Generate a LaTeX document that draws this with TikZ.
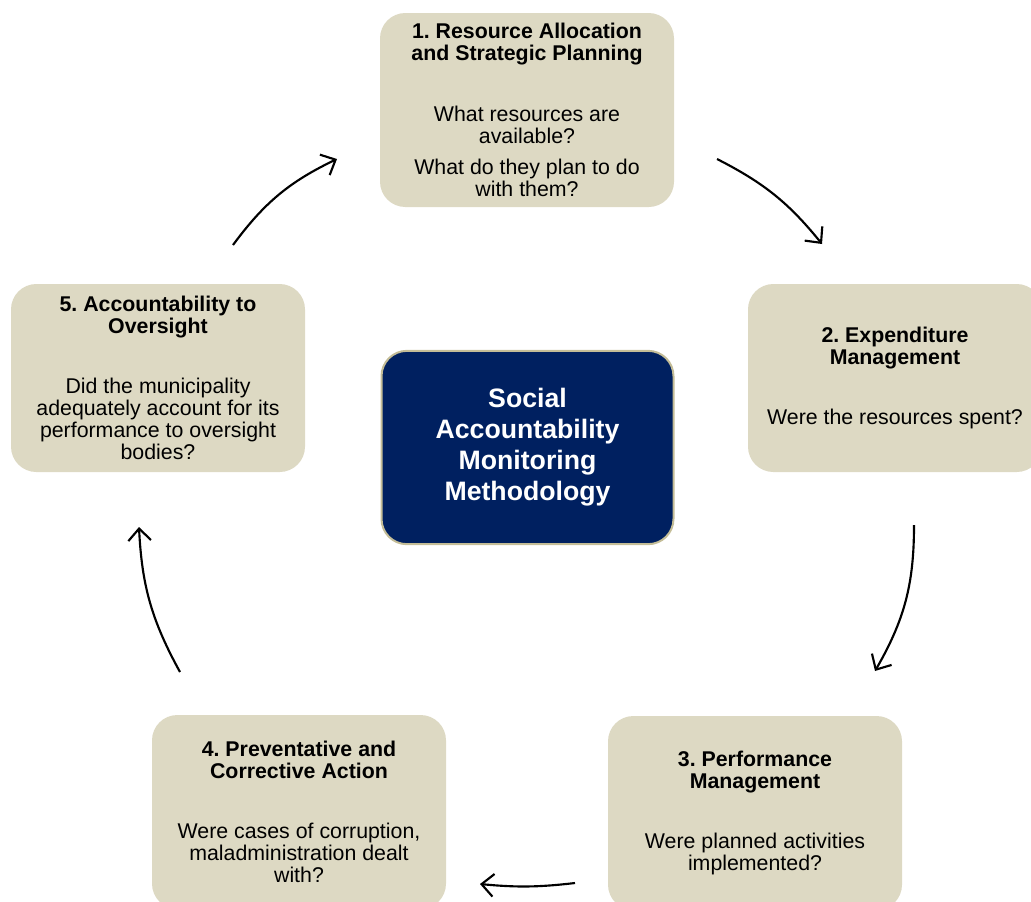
\documentclass[tikz,border=0pt]{standalone}
\usepackage{fontspec}
\setmainfont{Liberation Sans}
\usepackage{tikz}
\usetikzlibrary{arrows.meta}

\definecolor{boxtan}{HTML}{DDD9C3}
\definecolor{rimtan}{HTML}{C4BD97}
\definecolor{navy}{HTML}{002060}
\newcommand{\hd}[1]{\textbf{#1}}
\frenchspacing

\begin{document}
\begin{tikzpicture}[x=0.75pt, y=0.75pt,
    stage/.style={rectangle, rounded corners=19pt, fill=boxtan, align=center,
        minimum width=220.5pt, minimum height=145.5pt, inner sep=0pt,
        font=\fontsize{16}{16.5}\selectfont},
    hub/.style={rectangle, rounded corners=19pt, fill=navy, draw=rimtan, line width=1.5pt,
        align=center, text=white, minimum width=219pt, minimum height=145pt,
        font=\fontsize{20}{23.25}\selectfont\bfseries},
    flow/.style={-{Straight Barb[length=9pt,width=17pt]}, line width=1.6pt}]
        \useasboundingbox (0,0) rectangle (1031,-901);

        \node[stage] (b1) at (527,-110) {\hd{1. Resource Allocation}\\\hd{and Strategic Planning}\\[29pt]
            What resources are\\available?\\[6.75pt]What do they plan to do\\with them?};
        \node[stage, minimum height=141pt] (b2) at (895,-378) {\hd{2. Expenditure}\\\hd{Management}\\[29pt]
            Were the resources spent?};
        \node[stage] (b3) at (755,-813) {\hd{3. Performance}\\\hd{Management}\\[29pt]
            Were planned activities\\implemented?};
        \node[stage] (b4) at (299,-812) {\hd{4. Preventative and}\\\hd{Corrective Action}\\[29pt]
            Were cases of corruption,\\maladministration dealt\\with?};
        \node[stage, minimum height=141pt] (b5) at (158,-378) {\hd{5. Accountability to}\\\hd{Oversight}\\[29pt]
            Did the municipality\\adequately account for its\\performance to oversight\\bodies?};
        \node[hub] (hub) at (527.5,-447.5) {Social\\Accountability\\Monitoring\\Methodology};

        \coordinate (s1) at (233,-245);  \coordinate (e1) at (337,-159);
        \coordinate (s2) at (717,-159);  \coordinate (e2) at (822,-244);
        \coordinate (s3) at (914,-525);  \coordinate (e3) at (875,-671);
        \coordinate (s4) at (575,-883);  \coordinate (e4) at (480,-884);
        \coordinate (s5) at (180,-672);  \coordinate (e5) at (139,-527);

        \draw[flow] (s1) to[bend left=14] (e1);
        \draw[flow] (s2) to[bend left=12] (e2);
        \draw[flow] (s3) to[bend left=15] (e3);
        \draw[flow] (s4) to[bend left=6] (e4);
        \draw[flow] (s5) to[bend left=13] (e5);
    \end{tikzpicture}
\end{document}
